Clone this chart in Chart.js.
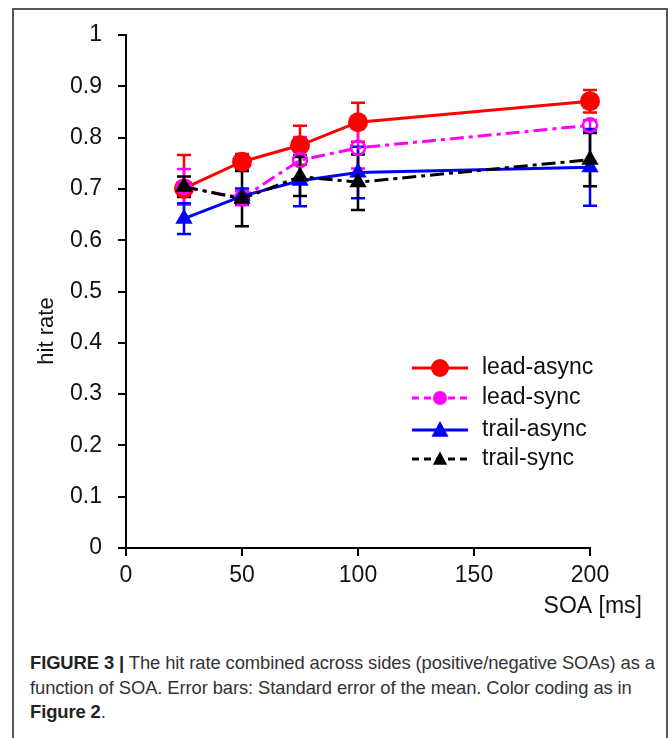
<!DOCTYPE html>
<html>
<head>
<meta charset="utf-8">
<script src="https://cdn.jsdelivr.net/npm/chart.js@4.4.1/dist/chart.umd.min.js"></script>
<style>
  body { margin: 0; background: #fff; font-family: "Liberation Sans", Arial, sans-serif; }
  .frame { position: absolute; left: 12px; top: 8px; width: 656px; height: 760px;
           border: 2px solid #555; border-bottom: none; box-sizing: border-box; }
  #chart { position: absolute; left: 0; top: 0; }
  .caption { position: absolute; left: 30px; top: 651px; font-size: 18.4px; line-height: 24.5px;
             color: #333; white-space: nowrap; letter-spacing: -0.1px; }
  .caption b { color: #222; }
</style>
</head>
<body>
<div class="frame"></div>
<canvas id="chart" width="672" height="620"></canvas>
<div class="caption">
  <b>FIGURE 3 |</b> The hit rate combined across sides (positive/negative SOAs) as a<br>
  function of SOA. Error bars: Standard error of the mean. Color coding as in<br>
  <b>Figure 2</b>.
</div>
<script>
// SOA values and hit rates
let soa = [25, 50, 75, 100, 200];
let xTicks = [0, 50, 100, 150, 200];

let leadAsync = [0.701, 0.753, 0.785, 0.830, 0.871];
let leadAsyncErr = [0.065, 0.015, 0.038, 0.038, 0.022];

let leadSync = [0.704, 0.682, 0.756, 0.780, 0.824];
let leadSyncErr = [0.035, 0.014, 0.045, 0.040, 0.010];

let trailAsync = [0.642, 0.686, 0.716, 0.732, 0.742];
let trailAsyncErr = [0.030, 0.015, 0.050, 0.050, 0.075];

let trailSync = [0.704, 0.681, 0.724, 0.713, 0.757];
let trailSyncErr = [0.020, 0.054, 0.038, 0.054, 0.052];

const RED = '#ff0000', MAG = '#ff00ff', BLUE = '#0000ff', BLACK = '#000000';
const FONT = '"Liberation Sans", Arial, sans-serif';

function pts(arr) {
    return arr.map((v, i) => ({ x: soa[i], y: v }));
}

// error bars drawn under the markers
const errorBars = {
    id: 'errorBars',
    beforeDatasetsDraw(chart) {
        const { ctx, scales: { x, y } } = chart;
        ctx.save();
        chart.data.datasets.forEach(ds => {
            ctx.strokeStyle = ds.borderColor;
            ctx.lineWidth = 2.5;
            ctx.setLineDash([]);
            ds.errors.forEach((e, j) => {
                const px = x.getPixelForValue(soa[j]);
                const top = y.getPixelForValue(ds.data[j].y + e);
                const bot = y.getPixelForValue(ds.data[j].y - e);
                ctx.beginPath();
                ctx.moveTo(px, top); ctx.lineTo(px, bot);
                ctx.moveTo(px - 7, top); ctx.lineTo(px + 7, top);
                ctx.moveTo(px - 7, bot); ctx.lineTo(px + 7, bot);
                ctx.stroke();
            });
        });
        ctx.restore();
    }
};

// axis titles and the legend box inside the plot
const extras = {
    id: 'extras',
    afterDraw(chart) {
        const ctx = chart.ctx;
        ctx.save();
        ctx.fillStyle = '#111';
        ctx.font = '22px ' + FONT;
        ctx.textAlign = 'center';
        ctx.textBaseline = 'middle';
        ctx.translate(47, 331);
        ctx.rotate(-Math.PI / 2);
        ctx.fillText('hit rate', 0, 0);
        ctx.restore();

        ctx.save();
        ctx.fillStyle = '#111';
        ctx.font = '23px ' + FONT;
        ctx.textAlign = 'right';
        ctx.textBaseline = 'middle';
        ctx.fillText('SOA [ms]', 642, 607);

        const rows = [
            { label: 'lead-async', color: RED, dash: [], shape: 'circle', r: 9 },
            { label: 'lead-sync', color: MAG, dash: [7, 5], shape: 'circle', r: 7 },
            { label: 'trail-async', color: BLUE, dash: [], shape: 'triangle', r: 9 },
            { label: 'trail-sync', color: BLACK, dash: [7, 5], shape: 'triangle', r: 7.5 }
        ];
        const rowY = [368, 398, 430, 459];
        ctx.textAlign = 'left';
        rows.forEach((row, i) => {
            const yy = rowY[i];
            ctx.strokeStyle = row.color;
            ctx.fillStyle = row.color;
            ctx.lineWidth = 3;
            ctx.setLineDash(row.dash);
            ctx.beginPath();
            ctx.moveTo(412, yy); ctx.lineTo(468, yy);
            ctx.stroke();
            ctx.setLineDash([]);
            ctx.beginPath();
            if (row.shape === 'circle') {
                ctx.arc(440, yy, row.r, 0, Math.PI * 2);
            } else {
                ctx.moveTo(440, yy - row.r);
                ctx.lineTo(440 + row.r * 0.95, yy + row.r * 0.75);
                ctx.lineTo(440 - row.r * 0.95, yy + row.r * 0.75);
                ctx.closePath();
            }
            ctx.fill();
            ctx.fillStyle = '#111';
            ctx.font = '23px ' + FONT;
            ctx.fillText(row.label, 482, yy);
        });
        ctx.restore();
    }
};

const axisGrid = {
    display: true,
    drawOnChartArea: false,
    drawTicks: true,
    tickLength: 8,
    color: '#000',
    lineWidth: 2
};

const ctx1 = document.getElementById('chart').getContext('2d');
const hitChart = new Chart(ctx1, {
    type: 'line',
    data: {
        datasets: [{
            label: 'lead-async',
            data: pts(leadAsync),
            errors: leadAsyncErr,
            borderColor: RED,
            backgroundColor: RED,
            borderWidth: 3,
            pointStyle: 'circle',
            pointRadius: 10,
            pointBorderWidth: 0,
            clip: false,
            order: 4
        }, {
            label: 'lead-sync',
            data: pts(leadSync),
            errors: leadSyncErr,
            borderColor: MAG,
            backgroundColor: 'rgba(255,255,255,0)',
            borderWidth: 3,
            borderDash: [14, 5, 4, 5],
            pointStyle: 'circle',
            pointRadius: 7,
            pointBorderWidth: 2.5,
            clip: false,
            order: 3
        }, {
            label: 'trail-async',
            data: pts(trailAsync),
            errors: trailAsyncErr,
            borderColor: BLUE,
            backgroundColor: BLUE,
            borderWidth: 3,
            pointStyle: 'triangle',
            pointRadius: 10,
            pointBorderWidth: 0,
            clip: false,
            order: 2
        }, {
            label: 'trail-sync',
            data: pts(trailSync),
            errors: trailSyncErr,
            borderColor: BLACK,
            backgroundColor: BLACK,
            borderWidth: 3,
            borderDash: [14, 5, 4, 5],
            pointStyle: 'triangle',
            pointRadius: 10,
            pointBorderWidth: 0,
            clip: false,
            order: 1
        }]
    },
    options: {
        responsive: false,
        animation: false,
        devicePixelRatio: 1,
        layout: {
            padding: { left: 0, right: 82, top: 35, bottom: 0 }
        },
        scales: {
            x: {
                type: 'linear',
                min: 0,
                max: 200,
                afterFit: s => { s.height = 72; },
                afterBuildTicks: s => { s.ticks = xTicks.map(v => ({ value: v })); },
                grid: axisGrid,
                border: { display: true, color: '#000', width: 2 },
                ticks: {
                    color: '#111',
                    font: { family: FONT, size: 23 },
                    padding: 6,
                    maxRotation: 0
                }
            },
            y: {
                min: 0,
                max: 1,
                afterFit: s => { s.width = 126; },
                grid: axisGrid,
                border: { display: true, color: '#000', width: 2 },
                ticks: {
                    stepSize: 0.1,
                    color: '#111',
                    font: { family: FONT, size: 23 },
                    padding: 16,
                    callback: v => String(Math.round(v * 10) / 10)
                }
            }
        },
        plugins: {
            legend: { display: false },
            tooltip: { enabled: false }
        }
    },
    plugins: [errorBars, extras]
});
</script>
</body>
</html>
